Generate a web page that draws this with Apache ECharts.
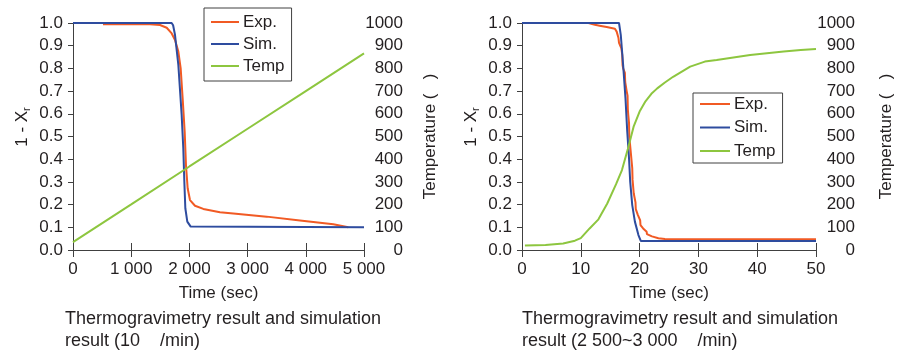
<!DOCTYPE html>
<html>
<head>
<meta charset="utf-8">
<script src="https://cdn.jsdelivr.net/npm/echarts@6/dist/echarts.min.js"></script>
<style>
html,body{margin:0;padding:0;background:#fff;}
#c{width:904px;height:353px;}
</style>
</head>
<body>
<div id="c"></div>
<script>
// ---- Left chart (10 °C/min) ----
const leftExpT = [515, 1000, 1323, 1495, 1610, 1696, 1753, 1810, 1850, 1884, 1919, 1941, 1970, 2010, 2096, 2239, 2525, 2755, 3328, 3900, 4473, 4730];
const leftExpV = [0.995, 0.995, 0.994, 0.991, 0.979, 0.954, 0.925, 0.874, 0.80, 0.668, 0.521, 0.374, 0.272, 0.22, 0.195, 0.181, 0.166, 0.161, 0.147, 0.13, 0.113, 0.1];
const leftSimT = [0, 1695, 1720, 1753, 1810, 1867, 1895, 1913, 1930, 1964, 2022, 2040, 5000];
const leftSimV = [1, 1, 0.99, 0.947, 0.815, 0.595, 0.448, 0.301, 0.184, 0.125, 0.103, 0.1, 0.1];
const leftTempT = [0, 1000, 2000, 3000, 4000, 5000];
const leftTempV = [35, 201, 368, 534, 700, 866];

// ---- Right chart (2 500~3 000 °C/min) ----
const rightExpT = [0, 11.3, 12.4, 13.2, 14.4, 15.8, 16.1, 16.4, 16.5, 16.7, 16.9, 17.05, 17.1, 17.2, 17.5, 17.55, 17.8, 17.95, 18.0, 18.07, 18.2, 18.25, 18.5, 18.75, 18.8, 19.0, 19.3, 19.35, 19.7, 20.1, 20.15, 20.6, 21.2, 21.25, 22.1, 23.2, 24.3, 26, 50];
const rightExpV = [1, 1, 0.992, 0.988, 0.982, 0.975, 0.962, 0.935, 0.912, 0.905, 0.888, 0.86, 0.815, 0.80, 0.78, 0.74, 0.70, 0.68, 0.62, 0.595, 0.56, 0.50, 0.43, 0.36, 0.31, 0.25, 0.21, 0.18, 0.155, 0.13, 0.11, 0.095, 0.08, 0.07, 0.06, 0.052, 0.048, 0.047, 0.047];
const rightSimT = [0, 16.5, 16.8, 17.2, 17.6, 17.9, 18.2, 18.4, 18.75, 19.2, 19.8, 20.2, 50];
const rightSimV = [1, 1, 0.947, 0.815, 0.668, 0.521, 0.404, 0.301, 0.198, 0.125, 0.066, 0.04, 0.04];
const rightTempT = [0.5, 4, 7, 9, 10, 11.5, 13, 14.5, 16, 17, 18, 18.5, 19, 20, 21, 22, 23, 24.3, 25.7, 28.6, 31.1, 33.1, 38.8, 44.5, 47.4, 50];
const rightTempV = [20, 22, 29, 41, 52, 95, 135, 205, 290, 352, 445, 495, 545, 610, 655, 688, 712, 738, 763, 808, 830, 837, 859, 874, 881, 885];

const seriesNames = ['Exp.', 'Sim.', 'Temp'];
const leftXTicks = {min: 0, max: 5000, interval: 1000};
const rightXTicks = {min: 0, max: 50, interval: 10};
const fracTicks = {min: 0, max: 1, interval: 0.1};
const tempTicks = {min: 0, max: 1000, interval: 100};
const xName = 'Time (sec)';
const yLeftName = '1 - X{sub|r}';
const yRightName = 'Temperature (   )';
const captionLeft = 'Thermogravimetry result and simulation\nresult (10    /min)';
const captionRight = 'Thermogravimetry result and simulation\nresult (2 500~3 000    /min)';

const FONT = '"Liberation Sans", Arial, Helvetica, sans-serif';
const TXT = '#231f20';
const AX = '#404040';
const COLORS = {'Exp.': '#f15a24', 'Sim.': '#2e4c9f', 'Temp': '#8dc63f'};

const zip = (t, v) => t.map((x, i) => [x, v[i]]);
const thousands = v => String(v).replace(/\B(?=(\d{3})+(?!\d))/g, ' ');

function xAxes(grid, ticks) {
  return [
    {
      type: 'value', gridIndex: grid, position: 'bottom', ...ticks,
      axisLine: {show: true, lineStyle: {color: AX, width: 1}},
      axisTick: {show: true, inside: true, length: 7, lineStyle: {color: AX}},
      axisLabel: {color: TXT, fontFamily: FONT, fontSize: 17, margin: 11, formatter: thousands},
      splitLine: {show: false},
      name: xName, nameLocation: 'middle', nameGap: 34,
      nameTextStyle: {color: TXT, fontFamily: FONT, fontSize: 17, lineHeight: 18}
    },
    {
      type: 'value', gridIndex: grid, position: 'top', ...ticks,
      axisLine: {show: true, lineStyle: {color: AX, width: 1}},
      axisTick: {show: true, inside: true, length: 7, lineStyle: {color: AX}},
      axisLabel: {show: false}, splitLine: {show: false}
    }
  ];
}
function yAxes(grid, rightGap) {
  return [
    {
      type: 'value', gridIndex: grid, position: 'left', ...fracTicks,
      axisLine: {show: true, lineStyle: {color: AX, width: 1}},
      axisTick: {show: true, inside: false, length: 5, lineStyle: {color: AX}},
      axisLabel: {color: TXT, fontFamily: FONT, fontSize: 17, margin: 10, formatter: v => v.toFixed(1)},
      splitLine: {show: false},
      name: yLeftName, nameLocation: 'middle', nameGap: 41,
      nameTextStyle: {
        color: TXT, fontFamily: FONT, fontSize: 17, lineHeight: 20, padding: [0, 0, 0, 19],
        rich: {sub: {fontFamily: FONT, fontSize: 11, lineHeight: 20, verticalAlign: 'bottom', color: TXT}}
      }
    },
    {
      type: 'value', gridIndex: grid, position: 'right', ...tempTicks,
      axisLine: {show: true, lineStyle: {color: AX, width: 1}},
      axisTick: {show: true, inside: true, length: 4, lineStyle: {color: AX}},
      axisLabel: {color: TXT, fontFamily: FONT, fontSize: 17, margin: 39, align: 'right', formatter: v => String(v)},
      splitLine: {show: false},
      name: yRightName, nameLocation: 'middle', nameGap: rightGap,
      nameTextStyle: {color: TXT, fontFamily: FONT, fontSize: 17, lineHeight: 18}
    }
  ];
}
function line(name, data, xi, yi, extra) {
  return Object.assign({
    name, type: 'line', data, xAxisIndex: xi, yAxisIndex: yi,
    symbol: 'none', showSymbol: false, smooth: false, z: 2,
    lineStyle: {color: COLORS[name], width: 2},
    itemStyle: {color: COLORS[name]}
  }, extra || {});
}
function legend(left, top, gap, pad, iw) {
  return {
    data: seriesNames.map(n => ({name: n, icon: 'rect'})), orient: 'vertical', left, top,
    itemWidth: iw, itemHeight: 2, itemGap: gap, padding: pad,
    backgroundColor: '#fff', borderColor: AX, borderWidth: 1,
    textStyle: {color: TXT, fontFamily: FONT, fontSize: 17, lineHeight: 18, padding: [0, 0, 0, -1]},
    selectedMode: false, z: 10
  };
}

const chart = echarts.init(document.getElementById('c'), null, {renderer: 'canvas'});
chart.setOption({
  animation: false,
  backgroundColor: '#fff',
  grid: [
    {left: 73, top: 23, width: 291, height: 227},
    {left: 522, top: 23, width: 294, height: 227}
  ],
  xAxis: [...xAxes(0, leftXTicks), ...xAxes(1, rightXTicks)],
  yAxis: [...yAxes(0, 57), ...yAxes(1, 61)],
  legend: [
    legend(204, 8, 4, [5, 7, 6, 7], 28),
    legend(693, 93, 5.5, [2, 7, 3, 7], 30)
  ],
  series: [
    line('Exp.', zip(leftExpT, leftExpV), 0, 0),
    line('Sim.', zip(leftSimT, leftSimV), 0, 0),
    line('Temp', zip(leftTempT, leftTempV), 0, 1),
    line('Exp.', zip(rightExpT, rightExpV), 2, 2),
    line('Sim.', zip(rightSimT, rightSimV), 2, 2),
    line('Temp', zip(rightTempT, rightTempV), 2, 3)
  ],
  graphic: [
    {type: 'text', left: 65, top: 308, style: {text: captionLeft, font: '18px ' + FONT, fill: TXT, lineHeight: 22}},
    {type: 'text', left: 522, top: 308, style: {text: captionRight, font: '18px ' + FONT, fill: TXT, lineHeight: 22}}
  ]
});
</script>
</body>
</html>
